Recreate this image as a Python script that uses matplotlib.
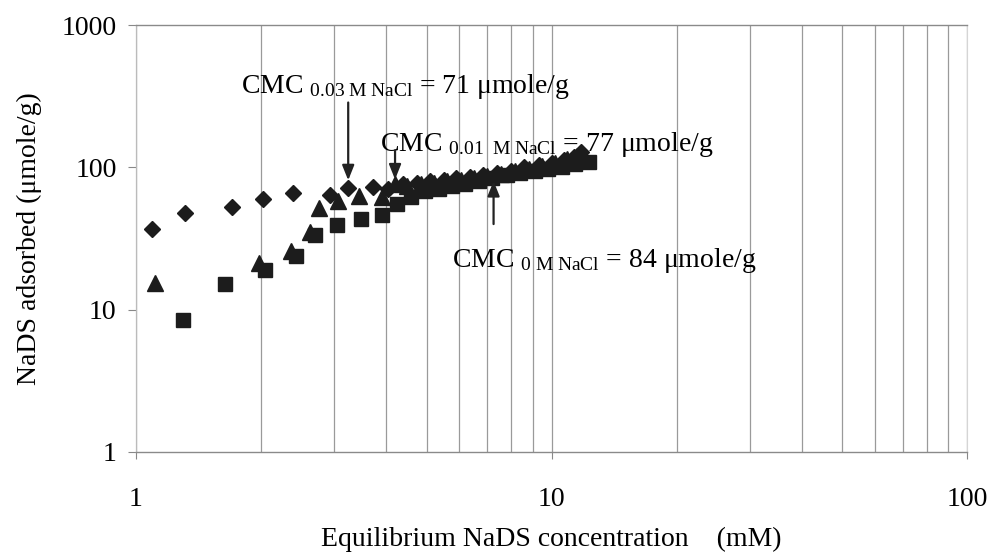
import matplotlib
matplotlib.use("Agg")
import matplotlib.pyplot as plt
from matplotlib.ticker import LogLocator, NullFormatter, FixedLocator

# ---- data ----
x_nacl003 = [1.09, 1.31, 1.70, 2.02, 2.39, 2.93, 3.24, 3.72, 4.05, 4.4, 4.75, 5.1, 5.5, 5.9, 6.35,
             6.85, 7.4, 8.0, 8.6, 9.3, 10.0, 10.7, 11.3, 11.8]
y_nacl003 = [36.7, 48, 53, 60, 66, 64, 72, 73, 71, 76, 78, 80, 82, 84, 86,
             88, 91, 95, 100, 104, 108, 113, 119, 129]

x_nacl001 = [1.11, 1.98, 2.36, 2.62, 2.75, 3.07, 3.44, 3.90, 4.20, 4.5, 4.85, 5.2, 5.6, 6.05,
             6.5, 7.0, 7.55, 8.15, 8.8, 9.5, 10.2, 10.9, 11.5]
y_nacl001 = [15.3, 21.2, 25.8, 35.3, 51.5, 58, 63, 62, 77, 74, 76, 78, 80, 82,
             84, 87, 90, 94, 98, 103, 108, 114, 120]

x_nacl0 = [1.30, 1.64, 2.04, 2.43, 2.69, 3.05, 3.47, 3.90, 4.25, 4.6, 4.95, 5.35, 5.75, 6.2,
           6.7, 7.2, 7.8, 8.4, 9.1, 9.8, 10.6, 11.4, 12.3]
y_nacl0 = [8.45, 15.1, 19.0, 24.0, 33.4, 39.6, 43.3, 46, 55, 62, 68, 71, 74, 77,
           80, 84, 88, 91, 95, 98, 101, 105, 109]

cmc_x = [3.24, 4.20, 7.25]
cmc_y = [71, 77, 84]
cmc_labels = ["0.03\\ M\\ NaCl", "0.01\\ \\ M\\ NaCl", "0\\ M\\ NaCl"]

x_ticks = [1, 10, 100]
y_ticks = [1, 10, 100, 1000]

plt.rcParams['font.family'] = ['Liberation Serif', 'DejaVu Serif']
plt.rcParams['mathtext.fontset'] = 'custom'
plt.rcParams['mathtext.rm'] = 'Liberation Serif'
plt.rcParams['mathtext.it'] = 'Liberation Serif:italic'

fig = plt.figure(figsize=(9.93, 5.55), dpi=100)
ax = fig.add_axes([0.137, 0.1856, 0.837, 0.769])

mk = '#1c1c1c'
ax.plot(x_nacl003, y_nacl003, linestyle='none', marker='D', ms=7.8, color=mk, zorder=3)
ax.plot(x_nacl001, y_nacl001, linestyle='none', marker='^', ms=11.5, color=mk, zorder=3)
ax.plot(x_nacl0, y_nacl0, linestyle='none', marker='s', ms=10.5, color=mk, zorder=3)

ax.set_xscale('log')
ax.set_yscale('log')
ax.set_xlim(1, 100)
ax.set_ylim(1, 1000)

ax.xaxis.set_major_locator(FixedLocator(x_ticks))
ax.yaxis.set_major_locator(FixedLocator(y_ticks))
ax.set_xticklabels([str(v) for v in x_ticks])
ax.set_yticklabels([str(v) for v in y_ticks])
ax.xaxis.set_minor_locator(LogLocator(base=10, subs=range(2, 10)))
ax.xaxis.set_minor_formatter(NullFormatter())
ax.yaxis.set_minor_locator(plt.NullLocator())

ax.grid(True, which='both', axis='x', color='#9a9a9a', lw=0.9)
ax.tick_params(axis='x', which='minor', length=0)
ax.tick_params(axis='x', which='major', length=5, direction='out', color='#888888', pad=20, labelsize=20)
ax.tick_params(axis='y', which='major', length=6, direction='out', color='#888888', pad=8, labelsize=20)

for s in ['top', 'bottom']:
    ax.spines[s].set_color('#8a8a8a')
    ax.spines[s].set_linewidth(1.0)
ax.spines['left'].set_color('#bbbbbb')
ax.spines['left'].set_linewidth(0.9)
ax.spines['right'].set_color('#d5d5d5')
ax.spines['right'].set_linewidth(0.8)

ax.set_xlabel('Equilibrium NaDS concentration    (mM)', fontsize=20, labelpad=11)
ax.set_ylabel('NaDS adsorbed (\u03bcmole/g)', fontsize=20, labelpad=14)

# annotations
text_pos = [(0.126, 0.840), (0.294, 0.705), (0.380, 0.433)]
for lab, val, (tx, ty) in zip(cmc_labels, cmc_y, text_pos):
    ax.text(tx, ty, r"CMC $_{\mathrm{" + lab + r"}}$ = " + f"{val} \u03bcmole/g",
            transform=ax.transAxes, fontsize=20, va='baseline', ha='left', zorder=4,
            math_fontfamily='custom')

arrow_off = [62, 24, -33]
arrow_shrink = [6, 3, 2]
for cx, cy, off, sh in zip(cmc_x, cmc_y, arrow_off, arrow_shrink):
    ax.annotate('', xy=(cx, cy), xytext=(0, off), textcoords='offset points',
                arrowprops=dict(arrowstyle='-|>,head_length=0.45,head_width=0.18',
                                mutation_scale=20, lw=1.6, color='#222222',
                                shrinkA=0, shrinkB=sh), zorder=4)

fig.savefig('out.png', dpi=100)
